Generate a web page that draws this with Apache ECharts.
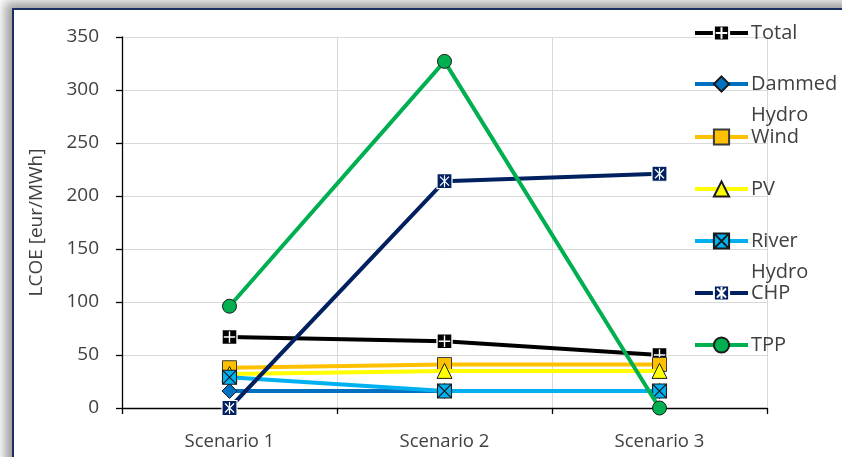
<!DOCTYPE html>
<html>
<head>
<meta charset="utf-8">
<script src="https://cdn.jsdelivr.net/npm/echarts@6/dist/echarts.min.js"></script>
<style>
  html, body { margin: 0; padding: 0; width: 842px; height: 457px; overflow: hidden; background: #ffffff; }
  #frame {
    position: absolute; left: 12px; top: 8px; width: 900px; height: 520px;
    background: #ffffff; border: 2px solid #1c2f63;
    box-shadow: -4px -3px 10px 3px rgba(0,0,0,0.38);
  }
  #chart { position: absolute; left: 0; top: 0; width: 842px; height: 457px; }
</style>
</head>
<body>
<div id="frame"></div>
<div id="chart"></div>
<script>
// Levelised cost of electricity per technology across three scenarios
const categories = ['Scenario 1', 'Scenario 2', 'Scenario 3'];
const seriesNames = ['Total', 'Dammed Hydro', 'Wind', 'PV', 'River Hydro', 'CHP', 'TPP'];
const total       = [67, 63, 50];
const dammedHydro = [16, 16, 16];
const wind        = [38, 41, 41];
const pv          = [32, 35, 35];
const riverHydro  = [29, 16, 16];
const chp         = [0, 214, 221];
const tpp         = [96, 327, 0];
const yTicks = { min: 0, max: 350, interval: 50 };

const FONT = '"Open Sans", Lato, sans-serif';
const TEXT = '#404040';

const styles = [
  { data: total,       color: '#000000', symbol: 'path://M0,0H10V10H0Z M5,1.2V8.8 M1.2,5H8.8', size: 15, border: '#ffffff', bw: 1.4 },
  { data: dammedHydro, color: '#0070C0', symbol: 'diamond', size: 15, border: '#1a1a1a', bw: 1 },
  { data: wind,        color: '#FFC000', symbol: 'rect', size: 14, border: '#3a3a3a', bw: 1 },
  { data: pv,          color: '#FFFF00', symbol: 'triangle', size: 15, border: '#1a1a1a', bw: 1 },
  { data: riverHydro,  color: '#00B0F0', symbol: 'path://M0,0H10V10H0Z M0.5,0.5L9.5,9.5 M9.5,0.5L0.5,9.5', size: 14, border: '#1a1a1a', bw: 1.1 },
  { data: chp,         color: '#002060', symbol: 'path://M0,0H10V10H0Z M2,2L8,8 M8,2L2,8 M5,1V9', size: 15, border: '#ffffff', bw: 1.2 },
  { data: tpp,         color: '#00B050', symbol: 'circle', size: 14, border: '#1a1a1a', bw: 1 }
];

const series = seriesNames.map((name, i) => ({
  name: name,
  type: 'line',
  data: styles[i].data,
  symbol: styles[i].symbol,
  symbolSize: styles[i].size,
  showAllSymbol: true,
  lineStyle: { color: styles[i].color, width: 4 },
  itemStyle: { color: styles[i].color, borderColor: styles[i].border, borderWidth: styles[i].bw },
  emphasis: { disabled: true },
  animation: false,
  z: 2 + i
}));

// one legend block per entry; a wrapped name gets a blank leading line so
// its first line sits beside the icon and the rest hangs below it
const legendRows = [33, 84, 137, 189, 241, 293, 345];
const LINE_H = 31;
const legends = seriesNames.map((name, i) => {
  const wrapped = name.indexOf(' ') >= 0;
  return {
    data: [name],
    left: 693,
    top: legendRows[i] - (wrapped ? 1.5 * LINE_H : 0.5 * LINE_H),
    orient: 'vertical',
    padding: 0,
    itemWidth: 53,
    itemHeight: 19,
    itemGap: 0,
    selectedMode: false,
    formatter: n => (n.indexOf(' ') >= 0 ? ' \n' + n.replace(' ', '\n') : n),
    lineStyle: { width: 4 },
    textStyle: { fontFamily: FONT, fontSize: 20, color: TEXT, lineHeight: LINE_H, padding: [0, 0, 0, -2] }
  };
});

const chart = echarts.init(document.getElementById('chart'), null, { renderer: 'canvas' });
chart.setOption({
  animation: false,
  backgroundColor: 'transparent',
  grid: { left: 122, right: 75, top: 37, bottom: 49, containLabel: false },
  legend: legends,
  xAxis: {
    type: 'category',
    data: categories,
    boundaryGap: true,
    axisLine: { lineStyle: { color: '#000000', width: 1.3 } },
    axisTick: { show: true, length: 6, lineStyle: { color: '#000000', width: 1.3 } },
    axisLabel: { fontFamily: FONT, fontSize: 18.5, color: TEXT, margin: 24 },
    splitLine: { show: true, lineStyle: { color: '#d9d9d9', width: 1 } }
  },
  yAxis: {
    type: 'value',
    min: yTicks.min, max: yTicks.max, interval: yTicks.interval,
    name: 'LCOE [eur/MWh]',
    nameLocation: 'middle',
    nameGap: 76,
    nameTextStyle: { fontFamily: FONT, fontSize: 19, color: TEXT },
    axisLine: { show: true, lineStyle: { color: '#000000', width: 1.3 } },
    axisTick: { show: true, length: 6, lineStyle: { color: '#000000', width: 1.3 } },
    axisLabel: { fontFamily: FONT, fontSize: 19, color: TEXT, margin: 23 },
    splitLine: { show: true, lineStyle: { color: '#d9d9d9', width: 1 } }
  },
  series: series
});
</script>
</body>
</html>
